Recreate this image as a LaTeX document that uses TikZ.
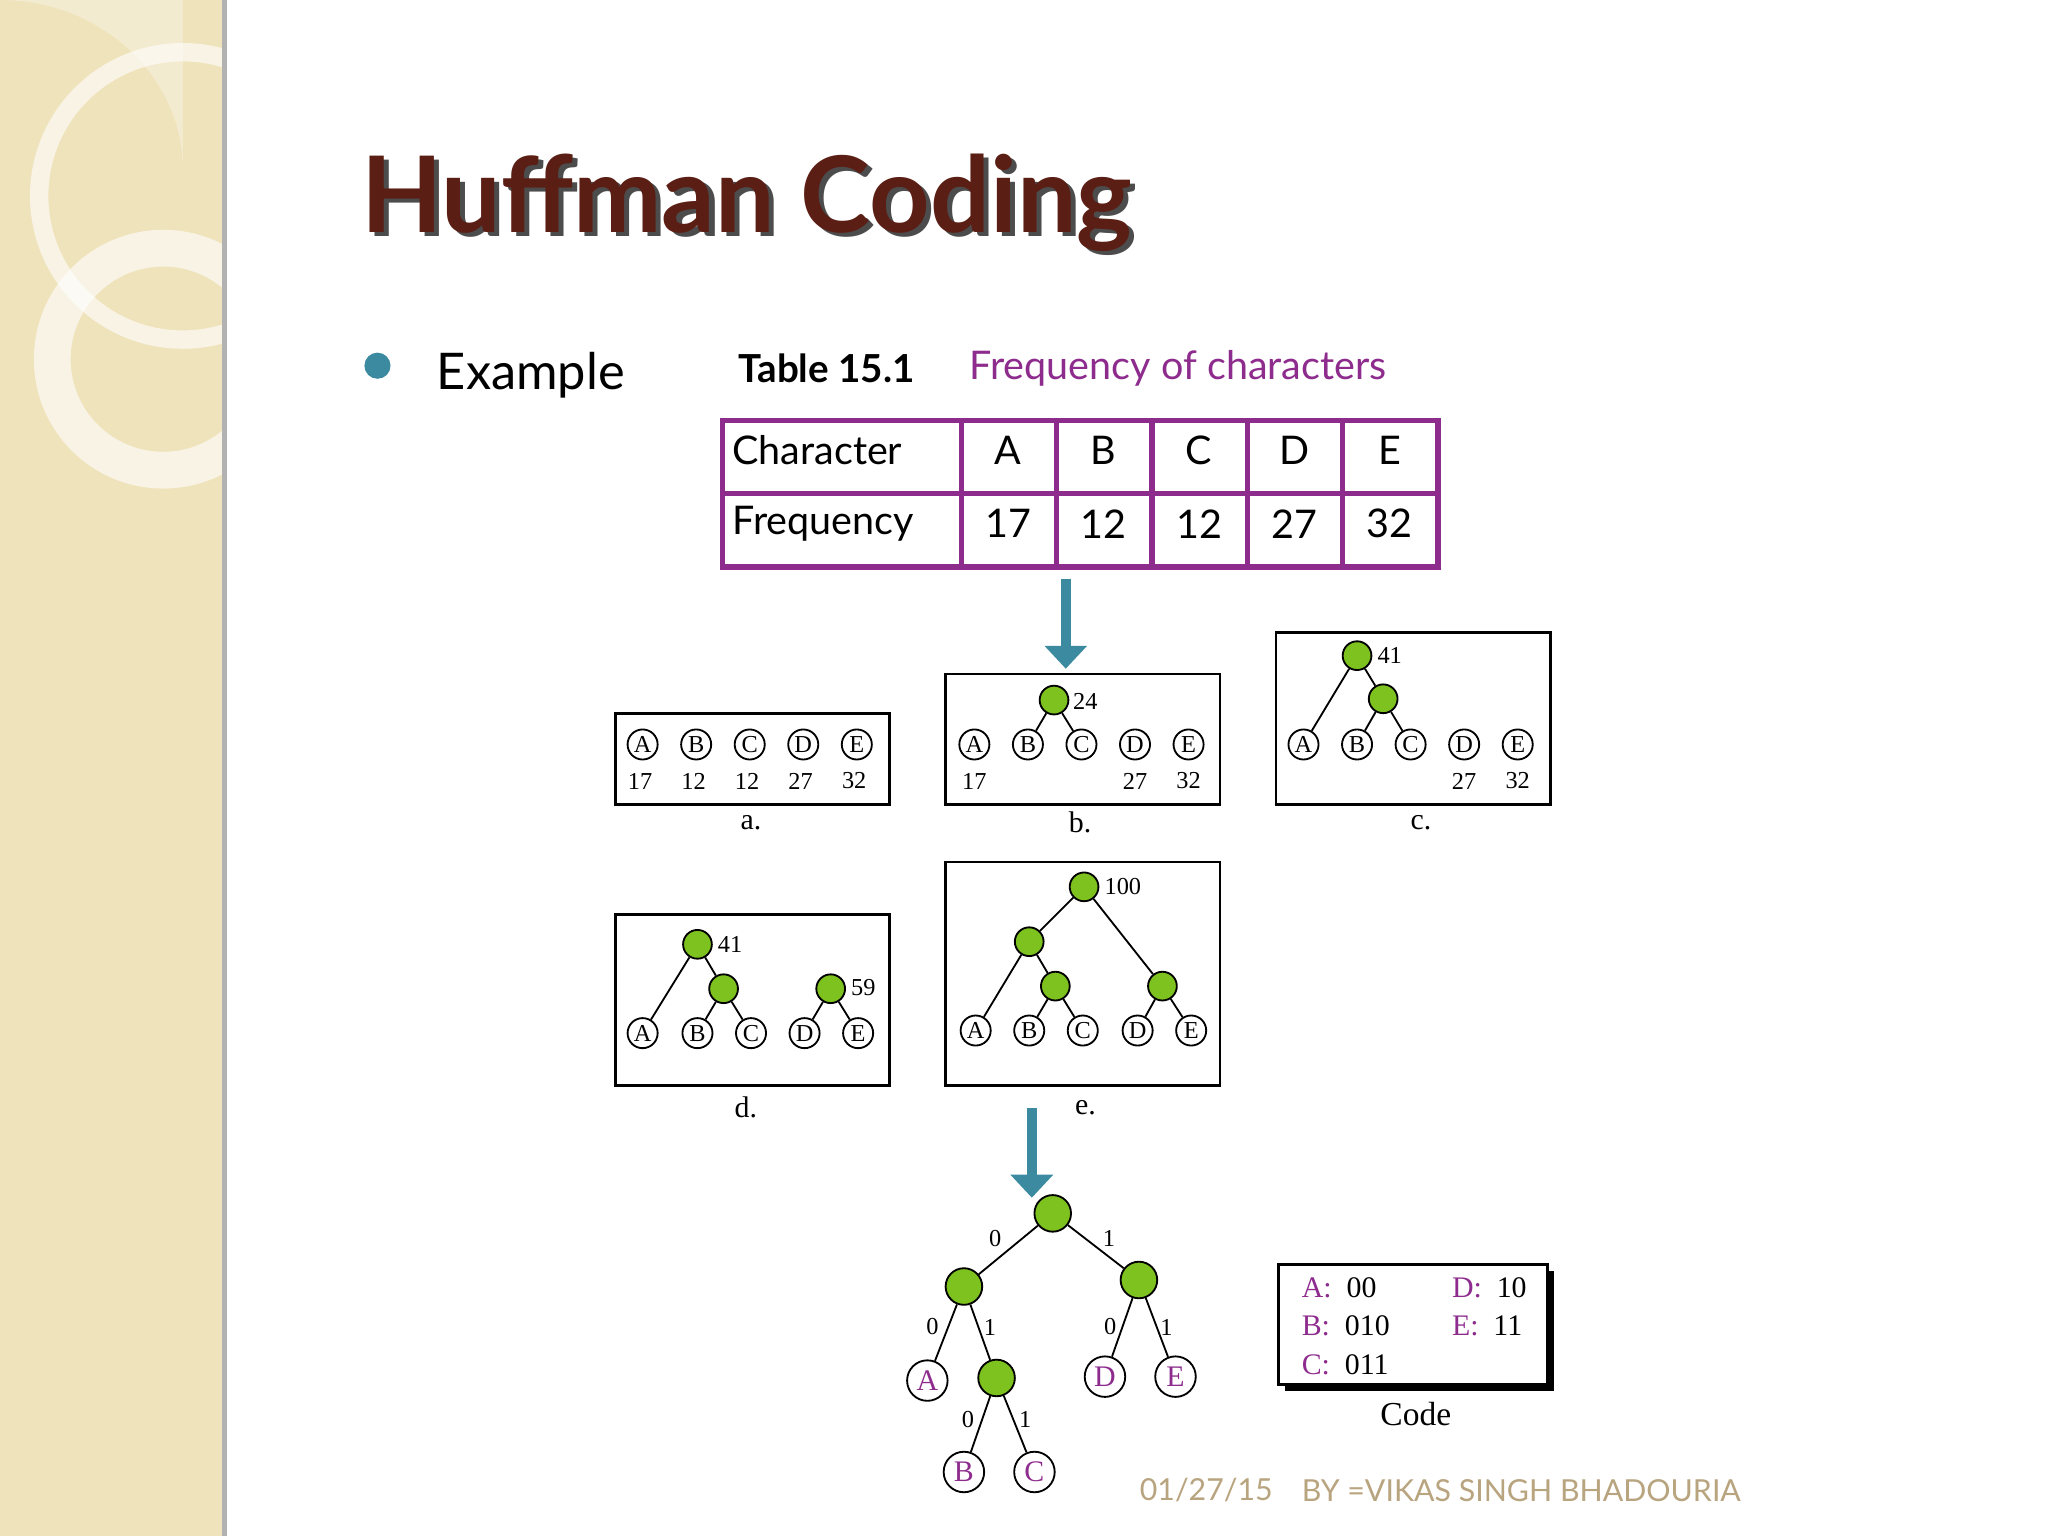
\documentclass[tikz,border=0pt]{standalone}
\usepackage{fontspec}
\setmainfont{Liberation Serif}
\newfontfamily\gill{Lato}
\usetikzlibrary{arrows.meta}
\definecolor{beige}{HTML}{EFE3BC}
\definecolor{titlec}{HTML}{5A1E14}
\definecolor{purp}{HTML}{8E2C8E}
\definecolor{teal}{HTML}{3C8AA0}
\definecolor{grn}{HTML}{7DC21E}
\definecolor{tan}{HTML}{B8A47E}
\tikzset{
 lf/.style={circle,draw,fill=white,inner sep=0pt,minimum size=0.23cm,font=\fontsize{5.3}{5.3}\selectfont},
 gn/.style={circle,draw,fill=grn,inner sep=0pt,minimum size=0.22cm},
 big/.style={circle,draw,fill=grn,inner sep=0pt,minimum size=0.28cm},
 bl/.style={circle,draw,fill=white,inner sep=0pt,minimum size=0.31cm,text=purp,font=\fontsize{6.5}{6.5}\selectfont},
 sm/.style={font=\fontsize{5.3}{5.3}\selectfont,inner sep=0pt},
 lab/.style={font=\fontsize{6.5}{6.5}\selectfont,inner sep=0pt},
 fbox/.style={draw,semithick},
 darr/.style={draw=teal,line width=2.2pt,-{Triangle[length=5pt,width=9pt]}},
 tb/.style={font=\gill\fontsize{8.6}{8.6}\selectfont,inner sep=0pt}
}
\begin{document}
\begin{tikzpicture}[x=0.01cm,y=-0.01cm]
\useasboundingbox (0,0) rectangle (1568,1176);
\fill[white] (0,0) rectangle (1568,1176);
\fill[beige] (0,0) rectangle (172,1176);
\draw[white,line width=4pt,opacity=0.6] (140,150) circle (110);
\draw[white,line width=8pt,opacity=0.6] (125,275) circle (85);
\fill[white,opacity=0.3] (140,0) -- (140,130) arc (0:-90:140 and 130) -- (0,0) -- cycle;
\draw[gray!60,line width=1pt] (172,0) -- (172,1176);
% title
\node[font=\gill\bfseries\fontsize{23}{23}\selectfont,text=black!70,anchor=west] at (268,158) {Huffman Coding};
\node[font=\gill\bfseries\fontsize{23}{23}\selectfont,text=titlec,anchor=west] (title) at (264,155) {Huffman Coding};
\fill[teal] (289,280) circle (10);
\node[font=\gill\fontsize{11}{11}\selectfont,anchor=west] (ex) at (322,287) {Example};
\node[font=\gill\bfseries\fontsize{8.4}{8.4}\selectfont,anchor=west] (tt) at (553,282) {Table 15.1};
\node[font=\gill\fontsize{8.6}{8.6}\selectfont,text=purp,anchor=west] (tt2) at (730,282) {Frequency of characters};
% table
\draw[purp,line width=1.2pt] (553,322) rectangle (1101,434) (553,378) -- (1101,378);
\foreach \x in {736,809,882,955,1028} \draw[purp,line width=1.2pt] (\x,322) -- (\x,434);
\node[tb,anchor=west] at (560,345) {Character};
\node[tb,anchor=west] at (560,401) {Frequency};
\foreach \x/\l/\n in {772/A/17,845/B/12,918/C/12,991/D/27,1064/E/32}{
 \node[tb] at (\x,345) {\l}; \node[tb] at (\x,401) {\n};}
\coordinate (a1) at (816,443); \coordinate (a2) at (816,512);
\draw[darr] (a1) -- (a2);
% a
\draw[fbox] (471,546) rectangle (681,616);
\foreach \x/\l/\n in {492/A/17,533/B/12,574/C/12,615/D/27,656/E/32}{
 \node[lf] at (\x,570) {\l}; \node[sm] at (\x-2,598) {\n};}
\node[lab] at (575,630) {a.};
% b
\draw[fbox] (724,516) rectangle (934,616);
\foreach \x/\l in {746/A,787/B,828/C,869/D,910/E} \node[lf] (b\l) at (\x,570) {\l};
\node[gn] (b24) at (807,536) {};
\draw (b24) -- (bB) (b24) -- (bC);
\node[sm,anchor=west] at (821,537) {24};
\node[sm] at (746,598) {17}; \node[sm] at (869,598) {27}; \node[sm] at (910,598) {32};
\node[lab] at (827,630) {b.};
% c
\draw[fbox] (977,484) rectangle (1187,616);
\foreach \x/\l in {998/A,1039/B,1080/C,1121/D,1162/E} \node[lf] (c\l) at (\x,570) {\l};
\node[gn] (c41) at (1039,502) {}; \node[gn] (ci) at (1059,535) {};
\draw (c41) -- (cA) (c41) -- (ci) (ci) -- (cB) (ci) -- (cC);
\node[sm,anchor=west] at (1054,502) {41};
\node[sm] at (1121,598) {27}; \node[sm] at (1162,598) {32};
\node[lab] at (1088,630) {c.};
% d
\draw[fbox] (471,700) rectangle (681,831);
\foreach \x/\l in {492/A,534/B,575/C,616/D,657/E} \node[lf] (d\l) at (\x,791) {\l};
\node[gn] (d41) at (534,723) {}; \node[gn] (di) at (554,757) {}; \node[gn] (d59) at (636,757) {};
\draw (d41) -- (dA) (d41) -- (di) (di) -- (dB) (di) -- (dC) (d59) -- (dD) (d59) -- (dE);
\node[sm,anchor=west] at (549,723) {41};
\node[sm,anchor=west] at (651,756) {59};
\node[lab] at (571,848) {d.};
% e
\draw[fbox] (724,660) rectangle (934,831);
\foreach \x/\l in {747/A,788/B,829/C,871/D,912/E} \node[lf] (e\l) at (\x,789) {\l};
\node[gn] (er) at (830,679) {}; \node[gn] (e1) at (788,721) {};
\node[gn] (e2) at (808,755) {}; \node[gn] (e3) at (890,755) {};
\draw (er) -- (e1) (er) -- (e3) (e1) -- (eA) (e1) -- (e2) (e2) -- (eB) (e2) -- (eC) (e3) -- (eD) (e3) -- (eE);
\node[sm,anchor=west] at (845,679) {100};
\node[lab] at (831,848) {e.};
\coordinate (a3) at (790,848); \coordinate (a4) at (790,917);
\draw[darr] (a3) -- (a4);
% final tree
\node[big] (r) at (806,929) {};
\node[big] (l) at (738,985) {};
\node[big] (rr) at (872,980) {};
\node[big] (lr) at (763,1055) {};
\node[bl] (A) at (710,1057) {A};
\node[bl] (D) at (846,1054) {D};
\node[bl] (E) at (900,1054) {E};
\node[bl] (B) at (738,1127) {B};
\node[bl] (C) at (792,1127) {C};
\draw (r) -- (l) (r) -- (rr) (l) -- (A) (l) -- (lr) (lr) -- (B) (lr) -- (C) (rr) -- (D) (rr) -- (E);
\node[sm] at (762,948) {0}; \node[sm] at (849,948) {1};
\node[sm] at (714,1016) {0}; \node[sm] at (758,1016) {1};
\node[sm] at (850,1016) {0}; \node[sm] at (893,1016) {1};
\node[sm] at (741,1087) {0}; \node[sm] at (785,1087) {1};
% code
\fill (984,973) rectangle (1190,1065);
\draw[fill=white,semithick] (979,968) rectangle (1185,1060);
\node[lab,anchor=west] at (996,986) {\textcolor{purp}{A:}\ \ 00};
\node[lab,anchor=west] at (996,1015) {\textcolor{purp}{B:}\ \ 010};
\node[lab,anchor=west] at (996,1045) {\textcolor{purp}{C:}\ \ 011};
\node[lab,anchor=west] at (1111,986) {\textcolor{purp}{D:}\ \ 10};
\node[lab,anchor=west] at (1111,1015) {\textcolor{purp}{E:}\ \ 11};
\node[font=\fontsize{7.3}{7.3}\selectfont] at (1084,1083) {Code};
\node[font=\gill\fontsize{6.6}{6.6}\selectfont,text=tan,anchor=west,inner sep=0pt] at (872,1141) {01/27/15};
\node[font=\gill\fontsize{6.6}{6.6}\selectfont,text=tan,anchor=west,inner sep=0pt] at (996,1141) {BY =VIKAS SINGH BHADOURIA};
\end{tikzpicture}
\end{document}
